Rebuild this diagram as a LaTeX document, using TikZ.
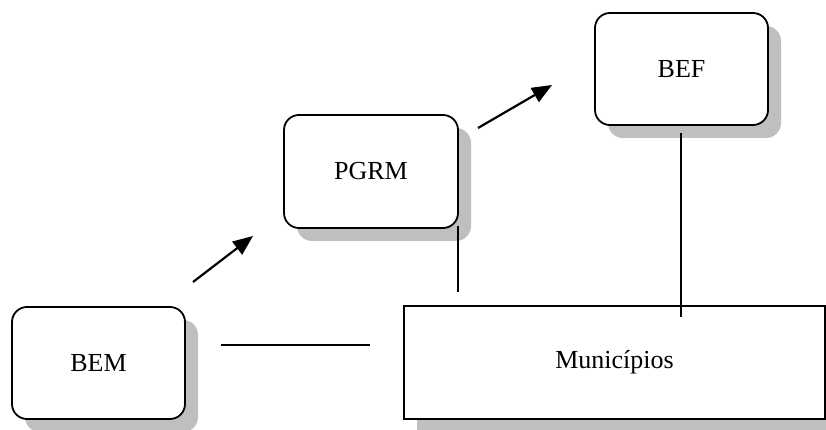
\documentclass[tikz,border=0pt]{standalone}
\usepackage{fontspec}
\setmainfont{Liberation Serif}
\usetikzlibrary{shadows,arrows.meta}
\begin{document}
\begin{tikzpicture}[x=1pt,y=-1pt,
  box/.style={draw=black, line width=1.8pt, fill=white, rounded corners=15pt,
    font=\fontsize{26}{30}\selectfont,
    drop shadow={shadow xshift=13pt, shadow yshift=-13pt, fill=black!25, opacity=1}},
  sqbox/.style={box, rounded corners=0pt},
  conn/.style={line width=1.8pt},
  arr/.style={line width=2.2pt, -{Triangle[length=20pt,width=16pt]}}]
\useasboundingbox (0,0) rectangle (826,430);
\node[box, minimum width=173pt, minimum height=112pt] (bem) at (98.5,363) {BEM};
\node[box, minimum width=174pt, minimum height=113pt] (pgrm) at (371,171.5) {PGRM};
\node[box, minimum width=173pt, minimum height=112pt] (bef) at (681.5,69) {BEF};
\node[sqbox, minimum width=421pt, minimum height=113pt] (mun) at (614.5,362.5) {Municípios};
\coordinate (h1) at (221,345);
\coordinate (h2) at (370,345);
\coordinate (p1) at (458,226);
\coordinate (p2) at (458,292);
\coordinate (b1) at (681,133);
\coordinate (b2) at (681,317);
\coordinate (a1) at (193,282);
\coordinate (a2) at (253,236);
\coordinate (a3) at (478,128);
\coordinate (a4) at (552,85);
\draw[conn] (h1) -- (h2);
\draw[conn] (p1) -- (p2);
\draw[conn] (b1) -- (b2);
\draw[arr] (a1) -- (a2);
\draw[arr] (a3) -- (a4);
\end{tikzpicture}
\end{document}
